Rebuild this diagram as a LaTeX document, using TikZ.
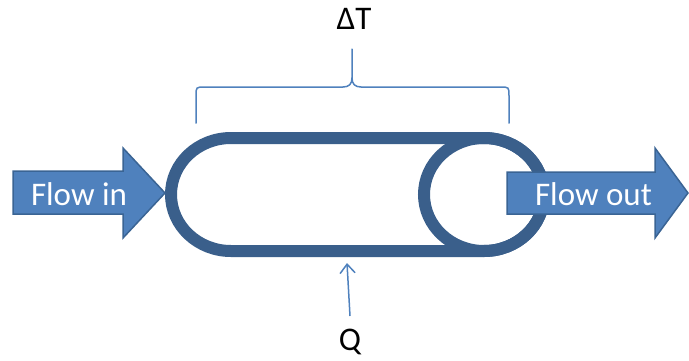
\documentclass[tikz,border=0pt]{standalone}
\usepackage{fontspec}
\setmainfont{Carlito}
\usetikzlibrary{arrows.meta}
\definecolor{tubeblue}{HTML}{3A5F8B}
\definecolor{fillblue}{HTML}{4F81BD}
\definecolor{edgeblue}{HTML}{3A6494}
\begin{document}
\begin{tikzpicture}[x=1pt,y=-1pt,
  tube/.style={draw=tubeblue, line width=12pt},
  flowarrow/.style={fill=fillblue, draw=edgeblue, line width=1.5pt, line join=miter},
  flowtext/.style={text=white, font=\fontsize{33}{33}\selectfont, inner sep=0pt},
  lbl/.style={font=\fontsize{33}{33}\selectfont, inner sep=0pt},
  thinline/.style={draw=fillblue, line width=1.5pt}]
\useasboundingbox (0,0) rectangle (689,360);
% tube (horizontal can)
\draw[tube] (231,138) -- (484,138) arc (-90:90:60 and 56.5) -- (231,251) arc (90:270:60 and 56.5) -- cycle;
\draw[tube] (484,194.5) ellipse (60 and 56.5);
\coordinate (tubebottom) at (347,263);
% flow in arrow
\draw[flowarrow] (13,171) -- (123,171) -- (123,148) -- (165,193) -- (123,238) -- (123,214) -- (13,214) -- cycle;
\node[flowtext, anchor=base] (flowin) at (79,205) {Flow in};
% flow out arrow
\draw[flowarrow] (507,172) -- (655,172) -- (655,148) -- (688,193) -- (655,238) -- (655,214) -- (507,214) -- cycle;
\node[flowtext, anchor=base] (flowout) at (593.5,205) {Flow out};
% brace
\draw[thinline, line cap=round] (196,123) -- (196,96) .. controls (196,87) .. (205,87) -- (343,87)
  .. controls (349,87) and (352,84) .. (352,78) -- (352,49);
\draw[thinline, line cap=round] (352,78) .. controls (352,84) and (355,87) .. (361,87) -- (500,87)
  .. controls (509,87) .. (509,96) -- (509,123);
\node[lbl, anchor=base] (dT) at (354,29.5) {ΔT};
% heat input
\node[lbl, anchor=base] (Q) at (350,350) {Q};
\coordinate (qfoot) at (350,316);
\draw[thinline, -{Straight Barb[length=9pt,width=15pt]}] (qfoot) -- (tubebottom);
\end{tikzpicture}
\end{document}
